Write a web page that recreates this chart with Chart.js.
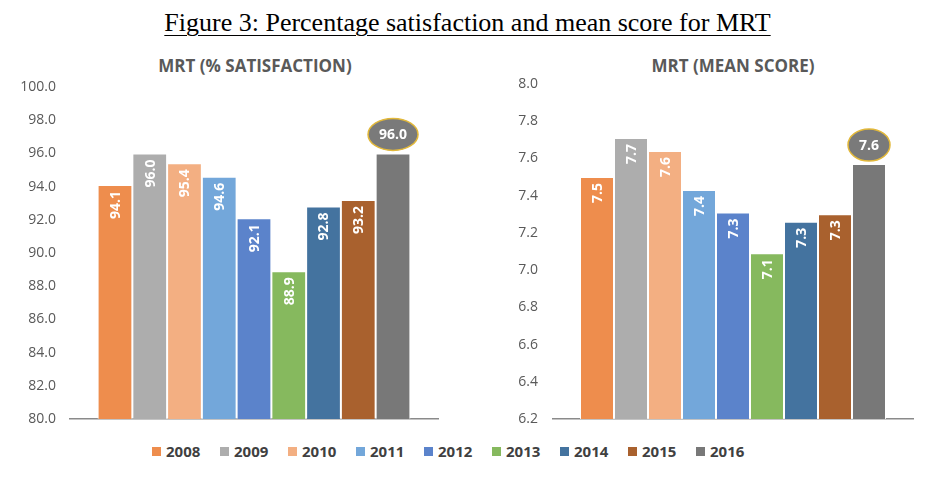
<!DOCTYPE html>
<html>
<head>
<meta charset="utf-8">
<script src="https://cdn.jsdelivr.net/npm/chart.js@4"></script>
<style>
  html, body { margin:0; padding:0; background:#fff; }
  body { width:935px; height:489px; position:relative; overflow:hidden; }
  #title { position:absolute; left:0; width:935px; top:8px; text-align:center;
           font-family:"Liberation Serif","DejaVu Serif",serif; font-size:26px; color:#000;
           text-decoration:underline; text-decoration-thickness:1px; text-underline-offset:4px; }
  .sub { position:absolute; top:54px; font-family:"Open Sans",sans-serif; font-weight:bold;
         font-size:17px; color:#595959; text-align:center; }
  canvas { position:absolute; }
  #legend { position:absolute; top:441px; left:152px; display:flex; font-family:"Open Sans",sans-serif;
            font-weight:bold; font-size:15px; color:#404040; }
  .li { display:flex; align-items:center; width:68px; }
  .sw { width:9px; height:9px; margin-right:5px; }
</style>
</head>
<body>
<div id="title">Figure 3: Percentage satisfaction and mean score for MRT</div>
<div class="sub" style="left:105px;width:300px;">MRT (% SATISFACTION)</div>
<div class="sub" style="left:583px;width:300px;">MRT (MEAN SCORE)</div>
<canvas id="c1" width="467" height="370" style="left:0;top:70px;width:467px;height:370px;"></canvas>
<canvas id="c2" width="468" height="370" style="left:467px;top:70px;width:468px;height:370px;"></canvas>
<div id="legend"></div>
<script>
const years = ['2008','2009','2010','2011','2012','2013','2014','2015','2016'];
const satisfaction = [94.1, 96.0, 95.4, 94.6, 92.1, 88.9, 92.8, 93.2, 96.0];
const meanScore = [7.50, 7.71, 7.64, 7.43, 7.31, 7.09, 7.26, 7.30, 7.57];
const satTicks = {min:80, max:100, step:2};
const meanTicks = {min:6.2, max:8.0, step:0.2};
const colors = ['#EE8D4D','#ADADAD','#F3AF82','#73A7DA','#5B83CB','#86B95E','#44739F','#A9612E','#787878'];

const labelPlugin = {
  id:'barLabels',
  afterDatasetsDraw(chart) {
    const ctx = chart.ctx;
    const n = chart.data.datasets.length;
    chart.data.datasets.forEach((ds, i) => {
      const meta = chart.getDatasetMeta(i);
      meta.data.forEach((bar, j) => {
        const txt = ds.data[j].toFixed(1);
        ctx.save();
        ctx.font = 'bold 14px "Open Sans"';
        ctx.fillStyle = '#fff';
        if (i === n - 1) {
          const w = ctx.measureText(txt).width;
          const cx = bar.x, cy = bar.y - 19;
          ctx.beginPath();
          ctx.ellipse(cx, cy, w/2 + 11, 16, 0, 0, Math.PI*2);
          ctx.fillStyle = '#7a7a7a';
          ctx.fill();
          ctx.lineWidth = 1.5;
          ctx.strokeStyle = '#E2B83A';
          ctx.stroke();
          ctx.fillStyle = '#fff';
          ctx.textAlign = 'center';
          ctx.textBaseline = 'middle';
          ctx.fillText(txt, cx, cy + 1);
        } else {
          ctx.translate(bar.x, bar.y + 6);
          ctx.rotate(-Math.PI/2);
          ctx.textAlign = 'right';
          ctx.textBaseline = 'middle';
          ctx.fillText(txt, 0, 1);
        }
        ctx.restore();
      });
    });
  }
};

function makeChart(id, values, t, pad, yWidth, tickGap) {
  return new Chart(document.getElementById(id), {
    type:'bar',
    data:{
      labels:[''],
      datasets: years.map((y, i) => ({
        label:y, data:[values[i]], backgroundColor:colors[i],
        borderColor:'rgba(255,255,255,0.85)', borderWidth:1, borderSkipped:'bottom'
      }))
    },
    options:{
      responsive:false, animation:false, devicePixelRatio:1,
      categoryPercentage:0.85, barPercentage:1.0,
      layout:{ padding:pad },
      plugins:{ legend:{display:false}, tooltip:{enabled:false}, title:{display:false} },
      scales:{
        x:{ display:true, grid:{display:false, drawTicks:false}, ticks:{display:false},
            border:{display:true, color:'#8a8a8a', width:1.5},
            afterFit(s){ s.height = 0; } },
        y:{ min:t.min, max:t.max,
            grid:{display:false, drawTicks:true, tickLength:tickGap}, border:{display:false},
            ticks:{ stepSize:t.step, padding:0, color:'#595959',
                    font:{family:'"Open Sans"', size:14},
                    callback:(v) => Number(v).toFixed(1) },
            afterFit(s){ s.width = yWidth; } }
      }
    },
    plugins:[labelPlugin]
  });
}

makeChart('c1', satisfaction, satTicks, {left:0, top:17, right:29, bottom:21}, 70, 14);
makeChart('c2', meanScore, meanTicks, {left:0, top:14, right:22, bottom:21}, 86, 15);

const lg = document.getElementById('legend');
years.forEach((y, i) => {
  const d = document.createElement('div'); d.className = 'li';
  const s = document.createElement('div'); s.className = 'sw'; s.style.background = colors[i];
  const t = document.createElement('span'); t.textContent = y;
  d.appendChild(s); d.appendChild(t); lg.appendChild(d);
});
</script>
</body>
</html>
